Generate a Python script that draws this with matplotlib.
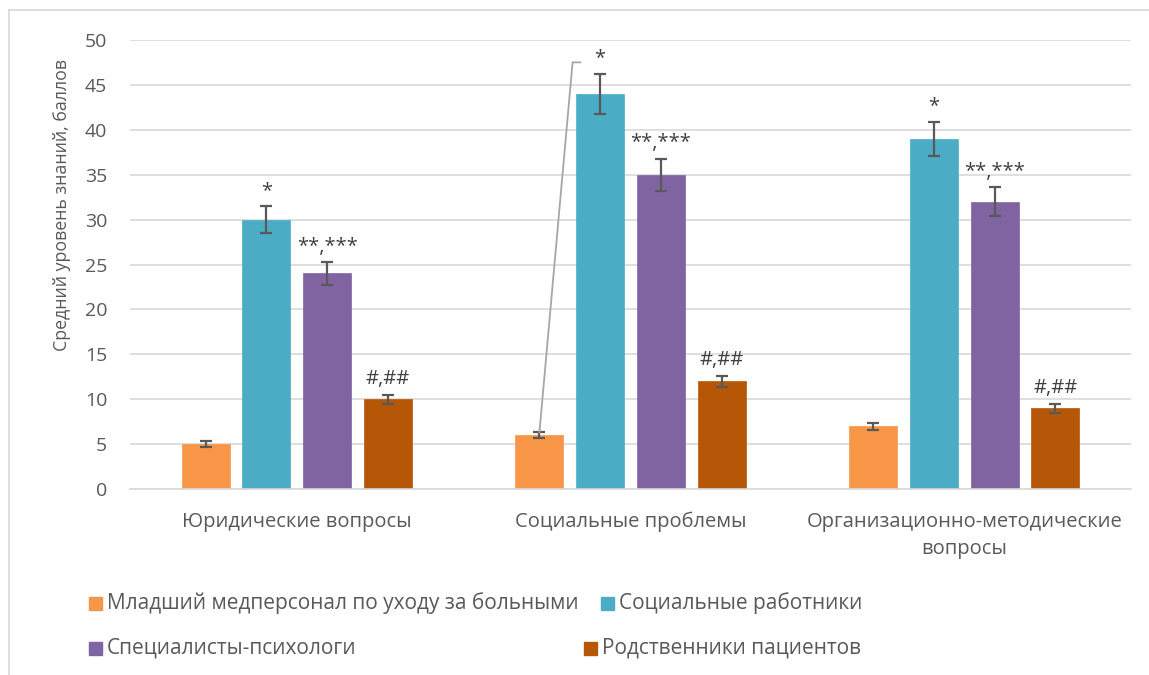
import matplotlib

matplotlib.use("Agg")
import matplotlib.pyplot as plt
import numpy as np
from matplotlib.patches import Rectangle

categories = ["Юридические вопросы", "Социальные проблемы", "Организационно-методические\nвопросы"]
groups = [
    "Младший медперсонал по уходу за больными",
    "Социальные работники",
    "Специалисты-психологи",
    "Родственники пациентов",
]
means = [
    [5, 6, 7],
    [30, 44, 39],
    [24, 35, 32],
    [10, 12, 9],
]
errors = [
    [0.3, 0.3, 0.4],
    [1.5, 2.2, 1.9],
    [1.25, 1.8, 1.6],
    [0.5, 0.6, 0.5],
]
# significance marks per group / category ("" = none)
marks = [
    ["", "*", ""],
    ["*", "", "*"],
    ["**,***", "**,***", "**,***"],
    ["#,##", "#,##", "#,##"],
]
yticks = [0, 5, 10, 15, 20, 25, 30, 35, 40, 45, 50]
ylabel = "Средний уровень знаний, баллов"

COLORS = ["#F79646", "#4BACC6", "#8064A2", "#B65708"]
TEXT = "#595959"
MARK = "#404040"
GRID = "#D9D9D9"
FONT = "Open Sans"

W, H = 1149, 675
plt.rcParams["font.family"] = [FONT, "DejaVu Sans"]


def fx(px):
    return px / W


def fy(py):
    return 1 - py / H


fig = plt.figure(figsize=(W / 100, H / 100), dpi=100)
ax = fig.add_axes([fx(130), fy(489), fx(1131) - fx(130), fy(40) - fy(489)])

x = np.arange(len(categories))
bar_w = 0.144
pitch = 0.182

for i, (name, vals, errs) in enumerate(zip(groups, means, errors)):
    pos = x + (i - 1.5) * pitch
    ax.bar(pos, vals, width=bar_w, color=COLORS[i], edgecolor=COLORS[i], linewidth=0.5, zorder=2, label=name)
    ax.errorbar(pos, vals, yerr=errs, fmt="none", ecolor="#595959", elinewidth=1.6,
                capsize=4.3, capthick=1.6, zorder=3)
    for j, m in enumerate(marks[i]):
        if not m:
            continue
        top = vals[j] + errs[j]
        if i == 0:
            # label moved over the neighbouring bar, tied back with a leader line
            t_x = x[j] + (1 - 1.5) * pitch
            t_y = means[1][j] + errors[1][j]
            ax.annotate(m, xy=(pos[j], top), xytext=(t_x, t_y + 1.2), textcoords="data",
                        ha="center", va="baseline", fontsize=14.5, color=MARK, zorder=4,
                        arrowprops=dict(arrowstyle="-", color="#A6A6A6", lw=1.3,
                                        shrinkA=8, shrinkB=0, relpos=(0, 0.3),
                                        connectionstyle="arc,angleA=180,armA=22,angleB=90,armB=0,rad=0"))
        else:
            ax.annotate(m, xy=(pos[j], top), xytext=(0, 7.5), textcoords="offset points",
                        ha="center", va="baseline", fontsize=14.5, color=MARK, zorder=4)

ax.set_xlim(-0.5, len(categories) - 0.5)
ax.set_ylim(0, 50)
ax.set_yticks(yticks)
ax.set_xticks(x)
ax.set_xticklabels(categories, fontsize=14.5, color=TEXT, linespacing=1.45)
ax.tick_params(axis="y", length=0, pad=16.5, labelsize=14, labelcolor=TEXT)
ax.tick_params(axis="x", length=0, pad=16.5)
ax.grid(axis="y", color=GRID, linewidth=1.2, zorder=0)
for s in ["top", "right", "left"]:
    ax.spines[s].set_visible(False)
ax.spines["bottom"].set_color(GRID)
ax.spines["bottom"].set_linewidth(1.2)

ax.set_ylabel(ylabel, fontsize=12.8, color=TEXT)
ax.yaxis.set_label_coords(-0.059, 0.632)

# chart area frame
fig.add_artist(plt.Line2D([fx(9), fx(9)], [fy(10), 0], color=GRID, lw=1.2))
fig.add_artist(plt.Line2D([fx(9), 1], [fy(10), fy(10)], color=GRID, lw=1.2))

# legend laid out in two rows
legend_pos = [(89, 603), (601, 603), (89, 648), (584, 648)]
for (lx, ly), name, c in zip(legend_pos, groups, COLORS):
    fig.add_artist(Rectangle((fx(lx), fy(ly + 6.5)), fx(13), 13 / H, color=c, transform=fig.transFigure))
    fig.text(fx(lx + 18), fy(ly), name, fontsize=15, color=TEXT, va="center", ha="left")

fig.savefig("out.png", dpi=100, facecolor="white")
